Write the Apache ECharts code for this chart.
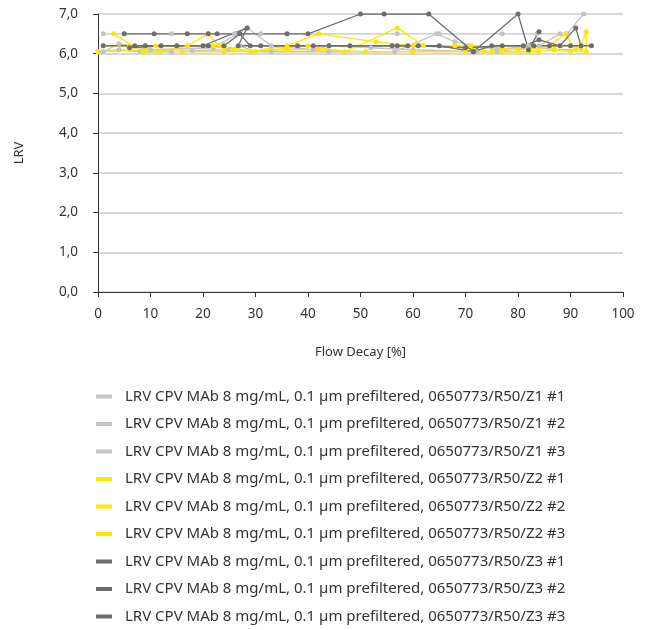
<!DOCTYPE html>
<html><head><meta charset="utf-8">
<script src="https://cdn.jsdelivr.net/npm/echarts@6/dist/echarts.min.js"></script>
<style>html,body{margin:0;padding:0;background:#fff}#c{width:653px;height:630px}</style>
</head><body><div id="c"></div>
<script>
const seriesNames = [
  "LRV CPV MAb 8 mg/mL, 0.1 µm prefiltered, 0650773/R50/Z1 #1",
  "LRV CPV MAb 8 mg/mL, 0.1 µm prefiltered, 0650773/R50/Z1 #2",
  "LRV CPV MAb 8 mg/mL, 0.1 µm prefiltered, 0650773/R50/Z1 #3",
  "LRV CPV MAb 8 mg/mL, 0.1 µm prefiltered, 0650773/R50/Z2 #1",
  "LRV CPV MAb 8 mg/mL, 0.1 µm prefiltered, 0650773/R50/Z2 #2",
  "LRV CPV MAb 8 mg/mL, 0.1 µm prefiltered, 0650773/R50/Z2 #3",
  "LRV CPV MAb 8 mg/mL, 0.1 µm prefiltered, 0650773/R50/Z3 #1",
  "LRV CPV MAb 8 mg/mL, 0.1 µm prefiltered, 0650773/R50/Z3 #2",
  "LRV CPV MAb 8 mg/mL, 0.1 µm prefiltered, 0650773/R50/Z3 #3"
];
const seriesColors = ["#c3c3c3","#c3c3c3","#c3c3c3","#ffe600","#ffe600","#ffe600","#6d6d6d","#6d6d6d","#6d6d6d"];

const z1_1 = [[1,6.5],[5,6.5],[14,6.5],[26,6.5],[31,6.5],[42,6.5],[57,6.5],[65,6.5],[77,6.5],[83.6,6.5],[89.3,6.5],[92.5,7.0]];
const z1_2 = [[0,6.05],[4,6.1],[8,6.05],[14,6.05],[18,6.08],[25,6.1],[27,6.2],[30,6.05],[33,6.05],[44,6.05],[56.5,6.05],[64.5,6.5],[68,6.3],[76,6.1],[82,6.2],[87,6.1],[91,6.1]];
const z1_3 = [[1,6.05],[4,6.25],[10,6.1],[22,6.15],[28.5,6.65],[33,6.2],[41,6.1],[44,6.2],[52,6.15],[60,6.1],[72,6.05],[76,6.05],[84,6.2],[88,6.5]];
const z2_1 = [[3,6.5],[8.5,6.05],[11.8,6.05],[17,6.2],[21,6.5],[23,6.2],[30,6.05],[40,6.2],[47,6.05],[57,6.65],[62,6.2],[71,6.2],[80,6.1],[88,6.2],[92,6.2]];
const z2_2 = [[1,6.2],[6,6.2],[11,6.2],[17,6.2],[22,6.2],[25.5,6.1],[29,6.05],[36,6.2],[42,6.5],[53,6.3],[60,6.2],[68,6.2],[75,6.05],[82,6.05],[86,6.2],[89,6.5],[91,6.1],[92,6.1]];
const z2_3 = [[0,6.05],[9,6.1],[16,6.05],[24,6.05],[36,6.1],[42,6.1],[51,6.05],[60,6.05],[70,6.05],[77,6.05],[84,6.05],[87,6.1],[90,6.05],[92,6.2],[93,6.55],[93,6.05]];
const z3_1 = [[1,6.2],[7,6.2],[9,6.2],[15,6.2],[20,6.2],[28.4,6.65],[26.7,6.2],[31,6.2],[41,6.2],[48,6.2],[57,6.2],[59,6.2],[65,6.2],[71.5,6.05],[75,6.2],[83,6.2],[86,6.2],[90,6.2],[94,6.2]];
const z3_2 = [[5,6.5],[10.7,6.5],[17,6.5],[21,6.5],[22.7,6.5],[36,6.5],[40,6.5],[50,7.0],[54.5,7.0],[63,7.0],[71.5,6.05],[80,7.0],[82,6.1],[84,6.55]];
const z3_3 = [[6,6.15],[12,6.2],[21,6.2],[24,6.2],[27,6.5],[29,6.2],[38,6.2],[44,6.2],[56,6.2],[61,6.2],[70,6.15],[77,6.2],[81,6.2],[84,6.35],[88,6.2],[91,6.65],[92,6.2]];
const allData = [z1_1,z1_2,z1_3,z2_1,z2_2,z2_3,z3_1,z3_2,z3_3];

const FONT = "Noto Sans";
const chart = echarts.init(document.getElementById('c'));
chart.setOption({
  animation: false,
  textStyle: {fontFamily: FONT},
  grid: {left: 98, right: 30, top: 14, height: 278},
  xAxis: {
    type: 'value', min: 0, max: 100, interval: 10,
    name: 'Flow Decay [%]', nameLocation: 'middle', nameGap: 54,
    nameTextStyle: {color: '#333', fontSize: 13, fontFamily: FONT},
    axisLine: {show: true, lineStyle: {color: '#333', width: 1}},
    axisTick: {show: true, length: 5, lineStyle: {color: '#333'}},
    axisLabel: {color: '#333', fontSize: 13.5, margin: 15, fontFamily: FONT},
    splitLine: {show: false}
  },
  yAxis: {
    type: 'value', min: 0, max: 7, interval: 1,
    name: 'LRV', nameLocation: 'middle', nameGap: 72, nameRotate: 90,
    nameTextStyle: {color: '#333', fontSize: 13, fontFamily: FONT},
    axisLine: {show: true, lineStyle: {color: '#333', width: 1}},
    axisTick: {show: true, length: 5, lineStyle: {color: '#333'}},
    axisLabel: {color: '#333', fontSize: 13.5, margin: 20, fontFamily: FONT,
      formatter: v => v.toFixed(1).replace('.', ',')},
    splitLine: {show: true, lineStyle: {color: '#d9d9d9', width: 2}}
  },
  legend: {
    orient: 'vertical', left: 96, top: 389, padding: 0, itemGap: 12.5,
    height: 300,
    icon: 'rect', itemWidth: 16, itemHeight: 4,
    textStyle: {color: '#333', fontSize: 15, fontFamily: FONT, padding: [0,0,0,8]},
    data: seriesNames
  },
  series: allData.map((d, i) => ({
    name: seriesNames[i], type: 'line', data: d,
    color: seriesColors[i],
    symbol: 'circle', symbolSize: 5, showSymbol: true,
    lineStyle: {width: 1.3, color: seriesColors[i]},
    itemStyle: {color: seriesColors[i]}
  }))
});
</script></body></html>
